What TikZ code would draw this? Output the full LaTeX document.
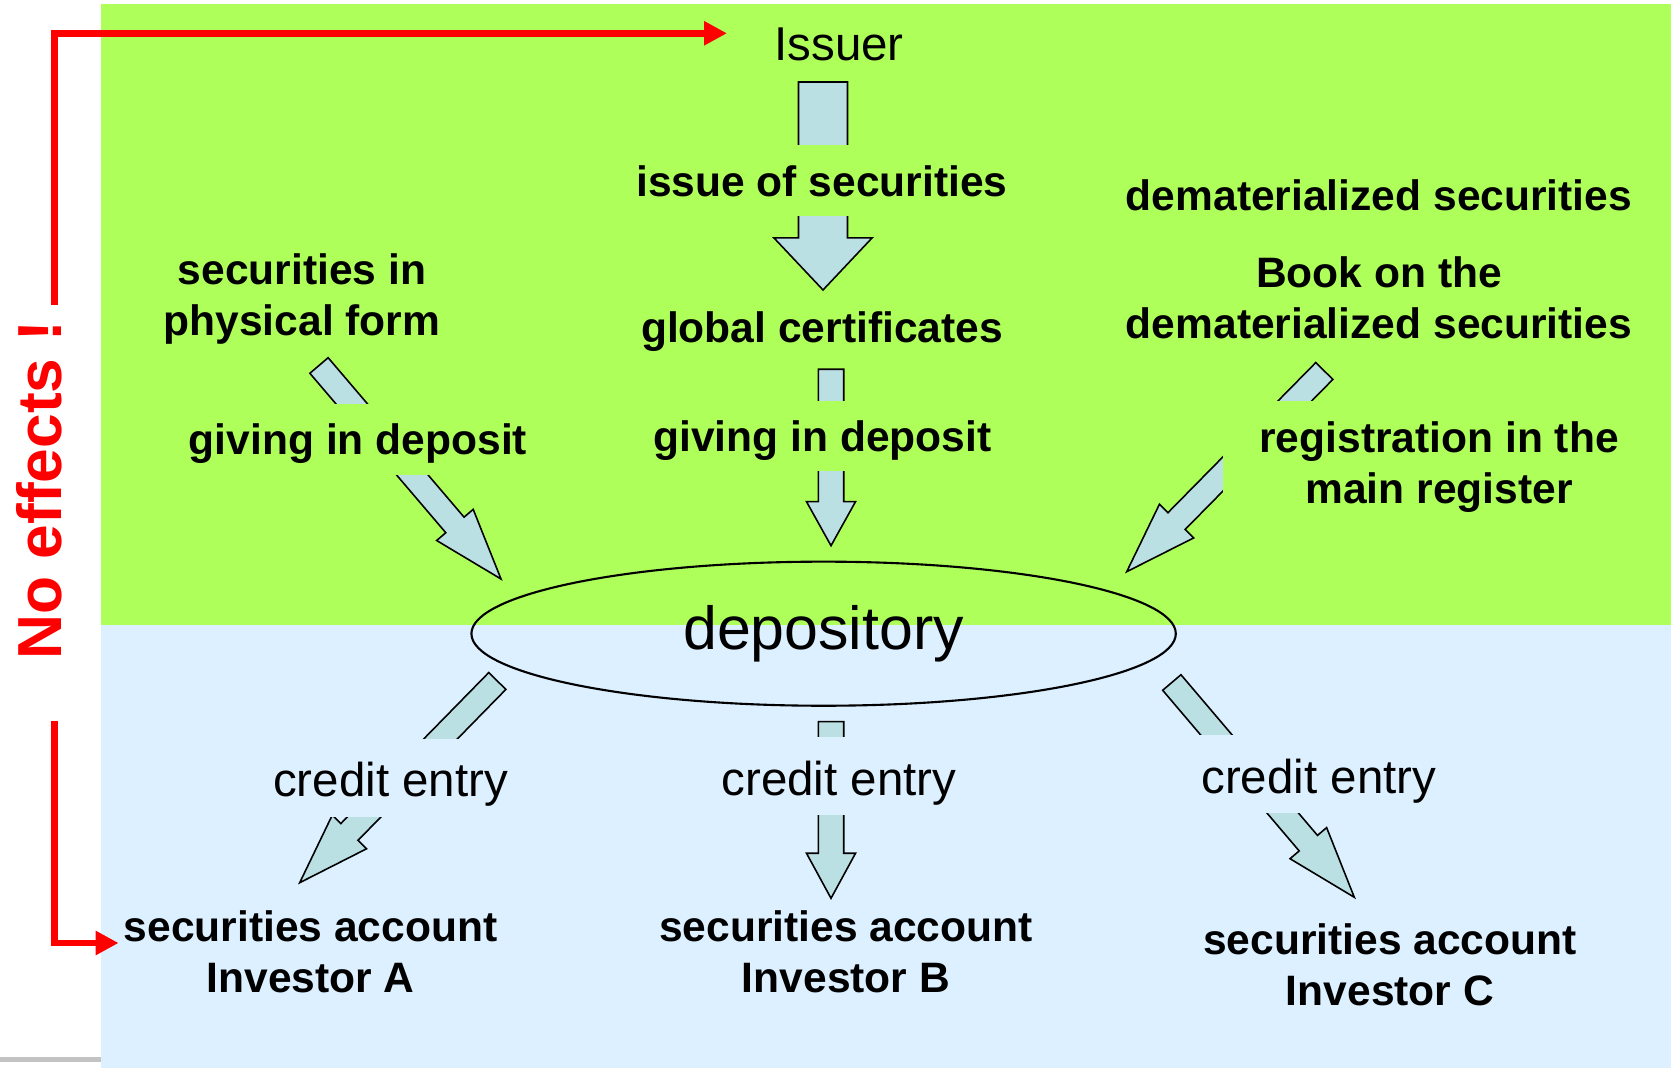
\documentclass[tikz,border=0pt]{standalone}
\usepackage{fontspec}
\setmainfont{Liberation Sans}
\usetikzlibrary{calc,shapes.geometric,arrows.meta}
\definecolor{bggreen}{RGB}{175,255,90}
\definecolor{bgblue}{RGB}{220,240,255}
\definecolor{arrfill}{RGB}{186,224,227}
\definecolor{gbar}{RGB}{195,195,195}
% block arrow: tail, tip, shaft half width, head half width, head length
\newcommand{\barrow}[5]{%
  \coordinate (ba-h) at ($(#2)!#5!(#1)$);
  \draw[blockar] ($(#1)!#3!90:(#2)$) -- ($(ba-h)!#3!90:(#2)$) -- ($(ba-h)!#4!90:(#2)$) -- (#2)
     -- ($(ba-h)!#4!-90:(#2)$) -- ($(ba-h)!#3!-90:(#2)$) -- ($(#1)!#3!-90:(#2)$) -- cycle;}
\tikzset{
  blockar/.style={draw=black, line width=0.45pt, fill=arrfill, line join=miter},
  bl/.style={font=\fontsize{12.1}{14.5}\selectfont\bfseries, align=center, inner sep=0pt},
  cutb/.style={bl, text height=11pt, text depth=2pt, inner xsep=8pt, inner ysep=3.55pt},
  rg/.style={font=\fontsize{13.5}{16}\selectfont, inner sep=0pt},
  cutr/.style={rg, text height=12.4pt, text depth=1.6pt, inner xsep=8pt, inner ysep=4.1pt},
  depo/.style={ellipse, draw=black, line width=0.6pt, minimum width=7.04cm, minimum height=1.44cm,
               inner sep=0pt, font=\fontsize{17.3}{20}\selectfont},
  nofx/.style={rotate=90, text=red, font=\fontsize{17.7}{20}\selectfont\bfseries, inner sep=0pt},
  redln/.style={draw=red, line width=0.065cm, line join=miter,
                -{Triangle[length=0.23cm,width=0.23cm]}}
}
\begin{document}
\begin{tikzpicture}[x=0.01cm,y=-0.01cm]
\useasboundingbox (0,0) rectangle (1671,1068);
% backgrounds
\fill[white] (0,0) rectangle (1671,1068);
\fill[bggreen] (101,4) rectangle (1671,625);
\fill[bgblue] (101,625) rectangle (1671,1068);
\fill[gbar] (0,1057) rectangle (101,1062);

% plain text nodes
\node[rg, anchor=base] (issuer) at (839,61) {Issuer};
\node[bl, anchor=base] (glob) at (822,343) {global certificates};
\node[bl] (phys) at (302,299) {securities in\\physical form};
\node[bl, anchor=base] (demat) at (1379,211) {dematerialized securities};
\node[bl] (book) at (1379,298) {Book on the\\dematerialized securities};
\node[depo] (depo) at (823.6,633.7) {depository};
\node[bl] (invA) at (310.6,951.8) {securities account\\Investor A};
\node[bl] (invB) at (846,951.8) {securities account\\Investor B};
\node[bl] (invC) at (1390,965) {securities account\\Investor C};
\node[nofx] (nofx) at (39,490) {No effects !};

% red connectors
\coordinate (r1) at (54.5,305);
\coordinate (r1e) at (727,33.3);
\coordinate (r2) at (54.5,721);
\coordinate (r2e) at (118.6,943);
\draw[redln] (r1) |- (r1e);
\draw[redln] (r2) |- (r2e);

% block arrows
\coordinate (a1s) at (823,82);     \coordinate (a1e) at (823,290);
\coordinate (a2s) at (831,369.3);  \coordinate (a2e) at (831,545.7);
\coordinate (a3s) at (831,721.7);  \coordinate (a3e) at (831,898.3);
\coordinate (dl1s) at (319,365.5); \coordinate (dl1e) at (501,579);
\coordinate (dr1s) at (1324.3,371); \coordinate (dr1e) at (1126.7,571.7);
\coordinate (dl2s) at (497.3,681); \coordinate (dl2e) at (299.7,882.7);
\coordinate (dr2s) at (1171.8,682.5); \coordinate (dr2e) at (1354.3,897.3);
\barrow{a1s}{a1e}{0.245cm}{0.49cm}{0.52cm}
\barrow{a2s}{a2e}{0.127cm}{0.245cm}{0.44cm}
\barrow{a3s}{a3e}{0.127cm}{0.245cm}{0.45cm}
\barrow{dl1s}{dl1e}{0.12cm}{0.24cm}{0.71cm}
\barrow{dr1s}{dr1e}{0.12cm}{0.24cm}{0.71cm}
\barrow{dl2s}{dl2e}{0.12cm}{0.24cm}{0.71cm}
\barrow{dr2s}{dr2e}{0.12cm}{0.24cm}{0.71cm}

% labels that cover the arrows
\node[cutb, fill=bggreen, anchor=base] (issue) at (822,196.5) {issue of securities};
\node[cutb, fill=bggreen, anchor=base] (givm) at (822.5,451.7) {giving in deposit};
\node[cutb, fill=bggreen, anchor=base] (givl) at (358,455) {giving in deposit};
\node[bl, fill=bggreen, minimum width=4.32cm, minimum height=1.32cm] (reg) at (1439,467) {registration in the\\main register};
\node[cutr, fill=bgblue, anchor=base] (crl) at (390.6,796.7) {credit entry};
\node[cutr, fill=bgblue, anchor=base] (crm) at (839,795) {credit entry};
\node[cutr, fill=bgblue, anchor=base] (crr) at (1318.8,793) {credit entry};
\end{tikzpicture}
\end{document}
